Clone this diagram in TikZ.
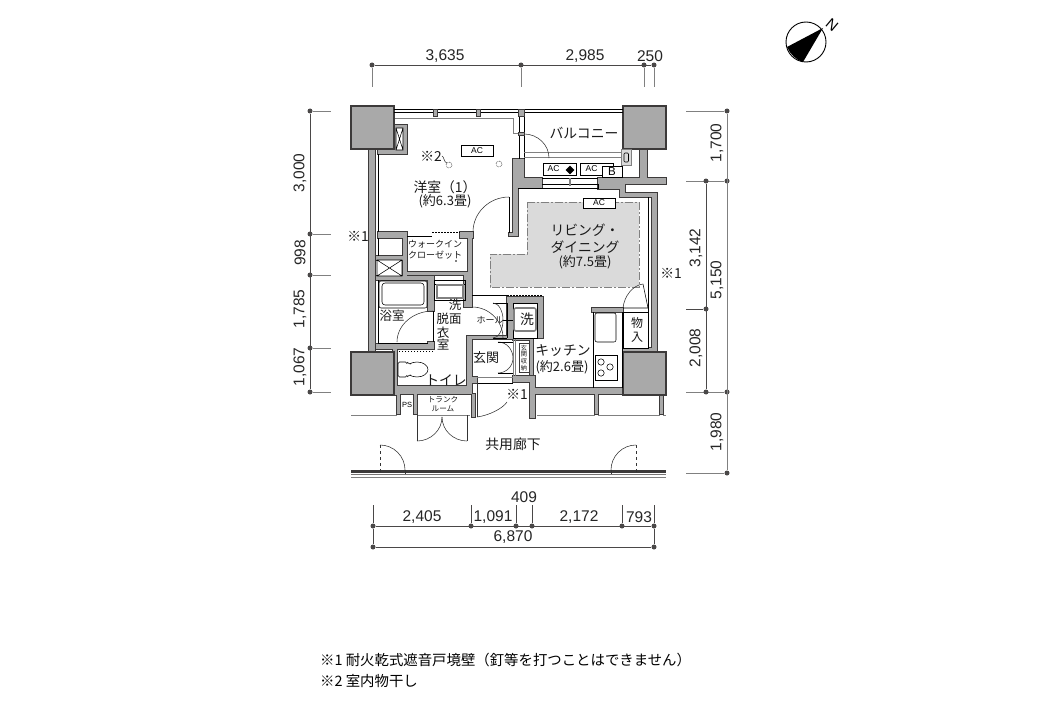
\documentclass[tikz,border=0pt]{standalone}
\usepackage{fontspec}
\setmainfont{Liberation Sans}
\newfontfamily\jp{Noto Sans CJK JP}
\usetikzlibrary{positioning,calc,shapes.geometric}

\definecolor{wallgray}{HTML}{A9A9A9}
\definecolor{walldark}{HTML}{3C3A3A}
\definecolor{dimdark}{HTML}{4A4848}
\definecolor{floorgray}{HTML}{DADADA}

\tikzset{
	walledge/.style={draw=walldark, line width=1.2pt},
	wallfill/.style={fill=wallgray},
	thinline/.style={draw=black, line width=0.55pt},
	softline/.style={draw=gray, line width=0.8pt},
	doorline/.style={draw=black!80, line width=0.55pt},
	dimline/.style={draw=dimdark, line width=0.7pt},
	dimtick/.style={draw=gray, line width=0.9pt},
	dimdot/.style={circle, fill=dimdark, inner sep=0pt, minimum size=5pt},
	dimlabel/.style={font=\fontsize{15.5}{16}\selectfont, text=black!85, inner sep=0pt},
	room/.style={font=\jp\fontsize{13.8}{17}\selectfont, text=black!90, inner sep=0pt, align=center},
	smallroom/.style={font=\jp\fontsize{9}{10.5}\selectfont, text=black!90, inner sep=0pt, align=center},
	unitbox/.style={draw=black, fill=white, line width=0.8pt, font=\fontsize{8.5}{9}\selectfont, inner sep=0pt},
}

% quarter swing of a door: from, to, corner
\newcommand{\doorswing}[3]{\draw[doorline] (#1) .. controls ($(#1)!.55!(#3)$) and ($(#2)!.55!(#3)$) .. (#2);}

\def\wallrects{369/149/375/352, 378/150/407/154, 403/125/407/154, 395/125/407/128, 395/125/396/150,
	378/232/407/238, 460/232/473/238, 403/238/407/276, 468/238/472/275, 403/272/472/275,
	376/256/403/260, 376/276/434/280, 464/275/472/307, 428/280/434/311, 376/344/433/349,
	428/342/434/349, 393/344/397/395, 393/386/472/394, 467/338/472/394, 467/336/513/339,
	472/377/477/383, 472/394/475/417, 513/336/533/340, 530/336/533/375,
	513/376/535/382, 530/382/535/418, 530/388/623/394, 397/394/400/414,
	414/394/417/414, 595/394/598/414, 660/394/663/414, 507/297/543/303, 507/297/513/338,
	537/297/543/338, 513/159/518/236, 509/233/518/236, 513/159/524/188, 513/178/542/188, 598/178/666/184,
	598/184/625/189, 620/184/625/197, 620/193/657/197, 652/193/657/352, 640/149/647/178,
	623/348/652/352, 592/308/623/312}

\begin{document}
\begin{tikzpicture}[x=1pt,y=-1pt]
	\useasboundingbox (0,0) rectangle (1056,706);
	\fill[white] (0,0) rectangle (1056,706);

	\draw[fill=floorgray, draw=gray, line width=0.8pt, dash pattern=on 8pt off 2pt on 2pt off 2pt]
		(527,202) -- (639,202) -- (639,287) -- (490,287) -- (490,254) -- (527,254) -- cycle;

	\foreach \a/\b/\c/\d in \wallrects {
		\draw[walledge] (\a,\b) rectangle (\c,\d);
	}
	\foreach \a/\b/\c/\d in \wallrects {
		\fill[wallfill] (\a,\b) rectangle (\c,\d);
	}
	\foreach \x/\y in {351/106, 623/106, 351/352, 623/352} {
		\draw[walledge, wallfill] (\x,\y) rectangle ++(43,43);
	}

	% balcony rail and glazing
	\draw[thinline] (394,109) -- (623,109) (394,112) -- (623,112);
	\draw[softline] (395,118) -- (513,118) -- (513,133) -- (518,133);
	\draw[thinline] (519,116) -- (519,159) (524,116) -- (524,159);
	\draw[softline] (524,152) -- (621,152) (524,157) -- (621,157);
	\foreach \x/\w in {433/4, 476/4, 518/6} {
		\draw[walledge, wallfill, line width=0.6pt] (\x,109) rectangle ++(\w,7);
	}
	\draw[walledge, wallfill, line width=0.6pt] (518,132) rectangle (524,135);
	\draw[thinline] (542,178) -- (598,178) (542,184) -- (598,184) (518,188) -- (598,188) -- (598,184);
	\draw[softline, line width=1.5pt] (570,178) -- (570,186);
	\coordinate (balc free) at (549,158);
	\coordinate (balc top) at (524,134);
	\coordinate (balc corner) at (549,134);
	\doorswing{balc top}{balc free}{balc corner}

	% shafts
	\draw[thinline, fill=white] (396,128) rectangle (403,150) (396,128) -- (403,150) (403,128) -- (396,150);
	\draw[thinline, fill=white] (377,260) rectangle (402,276) (377,260) -- (402,276) (402,260) -- (377,276);

	% bedroom and closet
	\draw[thinline] (378,154) -- (378,232) (378,238) -- (378,256) (407,236) -- (432,236);
	\draw[thinline, dashed, dash pattern=on 2pt off 1pt, line width=1.2pt] (432,232.5) -- (460,232.5);
	\draw[thinline] (509,197) -- (509,233);
	\coordinate (bed a) at (473,232);
	\coordinate (bed b) at (509,197);
	\coordinate (bed c) at (473,197);
	\doorswing{bed a}{bed b}{bed c}

	% bathroom
	\draw[thinline, rounded corners=2pt] (379,281) rectangle (427,308);
	\draw[thinline, rounded corners=3pt] (382,283) rectangle (424,305);
	\draw[thinline] (378,280) -- (378,343) -- (428,343);
	\coordinate (bath a) at (397,342);
	\coordinate (bath b) at (433,311);
	\coordinate (bath c) at (397,311);
	\doorswing{bath a}{bath b}{bath c}
	\draw[thinline] (433,311) -- (433,342);

	% washroom
	\draw[thinline] (434,280) rectangle (465,300) (434,284) -- (465,284);
	\draw[draw=gray, line width=1.4pt] (437,285) rectangle (463,298);
	\draw[thinline] (472,295) -- (507,295);
	\draw[thinline, dashed, dash pattern=on 1.5pt off 1.5pt] (507,295) -- (543,295);
	\draw[thinline, dashed, dash pattern=on 1.5pt off 1.5pt] (433,351) -- (397,351);
	\draw[thinline] (493,303) -- (507,303) (493,338) -- (507,338) (507,303) -- (507,338) (503,320) -- (513,320);
	\coordinate (hall a) at (472,307);
	\coordinate (hall b) at (503,338);
	\coordinate (hall c) at (503,307);
	\doorswing{hall a}{hall b}{hall c}
	\coordinate (cup a) at (493,303);
	\coordinate (cup b) at (503,320);
	\coordinate (cup c) at (503,303);
	\coordinate (cup d) at (493,338);
	\coordinate (cup e) at (503,338);
	\doorswing{cup a}{cup b}{cup c}
	\doorswing{cup d}{cup b}{cup e}
	\draw[fill=white, draw=black, line width=0.6pt] (513,303) rectangle (537,338);
	\draw[draw=gray, line width=1.6pt, rounded corners=2pt] (514,308) rectangle (536,331);

	% toilet
	\draw[thinline, rounded corners=1.5pt] (398,362) rectangle (407,377);
	\draw[thinline, fill=white] (417,369.5) ellipse [x radius=11, y radius=7.5];
	\fill[white] (404,364) rectangle (410,375);
	\draw[thinline] (407,362) .. controls (409,364) and (410,364) .. (411,364) (407,377) .. controls (409,375) and (410,375) .. (411,375);

	% entrance and storage
	\coordinate (ent a) at (498,342);
	\coordinate (ent b) at (513,358);
	\coordinate (ent c) at (513,342);
	\coordinate (ent d) at (498,373);
	\coordinate (ent e) at (513,373);
	\doorswing{ent a}{ent b}{ent c}
	\doorswing{ent d}{ent b}{ent e}
	\draw[thinline] (498,342) -- (513,342) (498,373) -- (513,373);
	\draw[softline] (513,339) -- (513,376) (515.5,339) -- (515.5,376);
	\draw[walldark, line width=1pt] (519,343) rectangle (529,372);
	\draw[softline] (477,377) -- (513,377);
	\draw[thinline] (477,383) -- (513,383);
	\draw[doorline] (477,383) -- (477,417);
	\coordinate (door a) at (477,417);
	\coordinate (door b) at (507,402);
	\coordinate (door c) at (499,414);
	\doorswing{door a}{door b}{door c}

	% kitchen
	\draw[thinline] (593,312) -- (593,388) (622,312) -- (622,388);
	\draw[thinline, rounded corners=2pt] (595,313) rectangle (616,342);
	\draw[thinline, fill=white] (595,355) rectangle (617,380);
	\foreach \x/\y in {601/362, 610/367, 601/373} {
		\draw[thinline] (\x,\y) circle [radius=3.2];
	}
	\draw[thinline, fill=white] (623,312) rectangle (648,348);
	\draw[thinline] (623,308) -- (648,308) -- (643,284);
	\coordinate (clo a) at (623,308);
	\coordinate (clo b) at (643,284);
	\coordinate (clo c) at (625,286);
	\doorswing{clo a}{clo b}{clo c}
	\draw[thinline] (648,197) -- (648,348);

	% corridor
	\foreach \a/\b in {351/397, 417/470, 537/595, 598/660, 663/666} {
		\draw[softline] (\a,415) -- (\b,415);
	}
	\coordinate (trunk l) at (417,415);
	\coordinate (trunk lb) at (417,441);
	\coordinate (trunk r) at (467,415);
	\coordinate (trunk rb) at (467,441);
	\coordinate (trunk m) at (442,417);
	\coordinate (trunk mb) at (442,441);
	\draw[doorline] (trunk l) -- (trunk lb) (trunk r) -- (trunk rb);
	\doorswing{trunk lb}{trunk m}{trunk mb}
	\doorswing{trunk rb}{trunk m}{trunk mb}
	\fill[walldark] (351,470) rectangle (666,472.5);
	\fill[walldark!70] (351,474) rectangle (666,475);
	\draw[softline] (351,477.5) -- (666,477.5);
	\coordinate (cor a) at (380,445);
	\coordinate (cor b) at (405,470);
	\coordinate (cor c) at (405,445);
	\coordinate (cor d) at (636,445);
	\coordinate (cor e) at (611,470);
	\coordinate (cor f) at (611,445);
	\draw[doorline, dashed] (cor a) -- (380,474) (cor d) -- (636,474);
	\doorswing{cor a}{cor b}{cor c}
	\doorswing{cor d}{cor e}{cor f}
	\draw[doorline] (405,470) -- (405,474) (611,470) -- (611,474);

	% equipment
	\node[unitbox, minimum width=32pt, minimum height=11pt] (ac bed) at (477,150.5) {AC};
	\node[unitbox, minimum width=32pt, minimum height=10pt] (ac liv) at (599,203) {AC};
	\node[unitbox, minimum width=33pt, minimum height=12pt, line width=0.5pt] (ac balc) at (559.5,169) {\hspace*{-12pt}AC};
	\node[unitbox, minimum width=33pt, minimum height=12pt, line width=0.5pt] (ac balc two) at (596.5,169) {\hspace*{-10pt}AC};
	\node[unitbox, minimum width=20pt, minimum height=11pt, line width=0.6pt, font=\fontsize{11.5}{12}\selectfont] (box b) at (612,171.5) {B};
	\node[diamond, fill=black, inner sep=0pt, minimum size=9pt] (diamond unit) at (570,170) {};
	\draw[softline, fill=floorgray] (621.5,149) rectangle (631,165);
	\draw[thinline, rounded corners=1pt] (624,153) rectangle (628.5,162);
	\draw[thinline, densely dotted] (449,165) circle [radius=3];
	\draw[thinline, densely dotted] (499,164) circle [radius=3];

	% room names
	\node[room] (bed name) at (445,187) {洋室（1）};
	\node[room, font=\jp\fontsize{13}{15}\selectfont] (bed size) at (445,201.5) {(約6.3畳)};
	\node[room] (balc name) at (584,133) {バルコニー};
	\node[room] (liv name) at (585,238.5) {リビング・\\ダイニング};
	\node[room, font=\jp\fontsize{13}{15}\selectfont] (liv size) at (585,262) {(約7.5畳)};
	\node[smallroom] (wic name) at (435,249.5) {ウォークイン\\クローゼット};
	\fill (456,261) circle [radius=0.9];
	\node[room, font=\jp\fontsize{12.5}{15}\selectfont] (bath name) at (392,316) {浴室};
	\node[room, font=\jp\fontsize{12.5}{15}\selectfont] (wash a) at (455,305) {洗};
	\node[room, font=\jp\fontsize{12.5}{15}\selectfont] (wash b) at (449,319) {脱面};
	\node[room, font=\jp\fontsize{12.5}{15}\selectfont] (wash c) at (443,332.5) {衣};
	\node[room, font=\jp\fontsize{12.5}{15}\selectfont] (wash d) at (443,345) {室};
	\node[smallroom] (hall name) at (490,320) {ホール};
	\node[room] (wm name) at (527,319) {洗};
	\node[room, font=\jp\fontsize{13}{15}\selectfont] (ent name) at (486,358) {玄関};
	\node[room, font=\jp\fontsize{6.2}{6.8}\selectfont] (stor name) at (524,358) {玄\\関\\収\\納};
	\node[room] (kit name) at (563,351) {キッチン};
	\node[room, font=\jp\fontsize{13}{15}\selectfont] (kit size) at (562,367) {(約2.6畳)};
	\node[room, font=\jp\fontsize{12}{13.5}\selectfont] (clo name) at (637,330) {物\\入};
	\node[room] (toilet name) at (446,380) {トイレ};
	\node[font=\fontsize{7.5}{8}\selectfont, inner sep=0pt] (ps name) at (407,405) {PS};
	\node[smallroom, font=\jp\fontsize{7.6}{8.5}\selectfont] (trunk name) at (443,404) {トランク\\ルーム};
	\node[room] (cor name) at (513,444) {共用廊下};
	\node[room] (note left) at (358,236) {※1};
	\node[room] (note right) at (671,273) {※1};
	\node[room, fill=white, inner sep=0.5pt] (note door) at (517,394.5) {※1};
	\node[room] (note bed) at (431,156) {※2};
	\draw[doorline] (note bed.east) .. controls (444,156) and (444,163) .. (447,163);

	% top dimensions
	\foreach \n/\x in {1/372, 2/521, 3/644, 4/654} {
		\node[dimdot] (top\n) at (\x,65) {};
		\coordinate (top\n e) at (\x,87);
		\draw[dimtick, line width=0.7pt] (top\n) -- (top\n e);
	}
	\draw[dimline] (top1) -- (top4);
	\node[dimlabel] (top a) at (445,56) {3,635};
	\node[dimlabel] (top b) at (585,56) {2,985};
	\node[dimlabel] (top c) at (650,56) {250};

	% left dimensions
	\foreach \n/\y in {1/111, 2/234, 3/275, 4/348, 5/392} {
		\node[dimdot] (lft\n) at (310,\y) {};
		\coordinate (lft\n e) at (331,\y);
		\draw[dimtick] (lft\n) -- (lft\n e);
	}
	\draw[dimline] (lft1) -- (lft5);
	\node[dimlabel, rotate=90] (lft a) at (300,173) {3,000};
	\node[dimlabel, rotate=90] (lft b) at (300,253) {998};
	\node[dimlabel, rotate=90] (lft c) at (300,309) {1,785};
	\node[dimlabel, rotate=90] (lft d) at (300,367) {1,067};

	% right dimensions
	\foreach \n/\y in {1/111, 2/181, 3/392, 4/473} {
		\node[dimdot] (rgt\n) at (727,\y) {};
		\coordinate (rgt\n e) at (686,\y);
		\draw[dimtick] (rgt\n) -- (rgt\n e);
	}
	\foreach \n/\y in {1/181, 2/309, 3/392} {
		\node[dimdot] (mid\n) at (706,\y) {};
	}
	\coordinate (mid e) at (686,309);
	\draw[dimline] (mid e) -- (mid2);
	\draw[dimline] (mid1) -- (mid3);
	\draw[dimtick] (rgt1) -- (rgt4);
	\node[dimlabel, rotate=90] (rgt a) at (717,143) {1,700};
	\node[dimlabel, rotate=90] (rgt b) at (717,280) {5,150};
	\node[dimlabel, rotate=90] (rgt c) at (717,432) {1,980};
	\node[dimlabel, rotate=90] (mid a) at (696,248) {3,142};
	\node[dimlabel, rotate=90] (mid b) at (696,348) {2,008};

	% bottom dimensions
	\foreach \n/\x in {1/373, 2/471, 3/516, 4/532, 5/622, 6/654} {
		\node[dimdot] (bot\n) at (\x,526) {};
		\coordinate (bot\n e) at (\x,505);
		\draw[dimline] (bot\n) -- (bot\n e);
	}
	\draw[dimline] (bot1) -- (bot6);
	\node[dimdot] (tot1) at (373,547) {};
	\node[dimdot] (tot2) at (654,547) {};
	\draw[dimline] (tot1) -- (tot2);
	\draw[dimline] (bot1) -- (tot1) (bot6) -- (tot2);
	\node[dimlabel] (bot a) at (422,517) {2,405};
	\node[dimlabel] (bot b) at (493,517) {1,091};
	\node[dimlabel] (bot c) at (579,517) {2,172};
	\node[dimlabel] (bot d) at (639,517) {793};
	\node[dimlabel] (bot e) at (524,497) {409};
	\node[dimlabel] (bot f) at (513,537) {6,870};

	% north mark
	\draw[draw=black, line width=0.9pt] (806,42) circle [radius=20];
	\fill[black] (823,28) -- (787,47) .. controls (790,54) and (796,60) .. (803,62) -- cycle;
	\node[font=\fontsize{15}{15}\selectfont, rotate=-40, inner sep=0pt] (north) at (832,25) {N};

	% footnotes
	\node[anchor=west, font=\jp\fontsize{14.4}{15}\selectfont, inner sep=0pt] (foot a) at (320,660) {※1 耐火乾式遮音戸境壁（釘等を打つことはできません）};
	\node[anchor=west, font=\jp\fontsize{14.4}{15}\selectfont, inner sep=0pt] (foot b) at (320,681) {※2 室内物干し};
\end{tikzpicture}
\end{document}
